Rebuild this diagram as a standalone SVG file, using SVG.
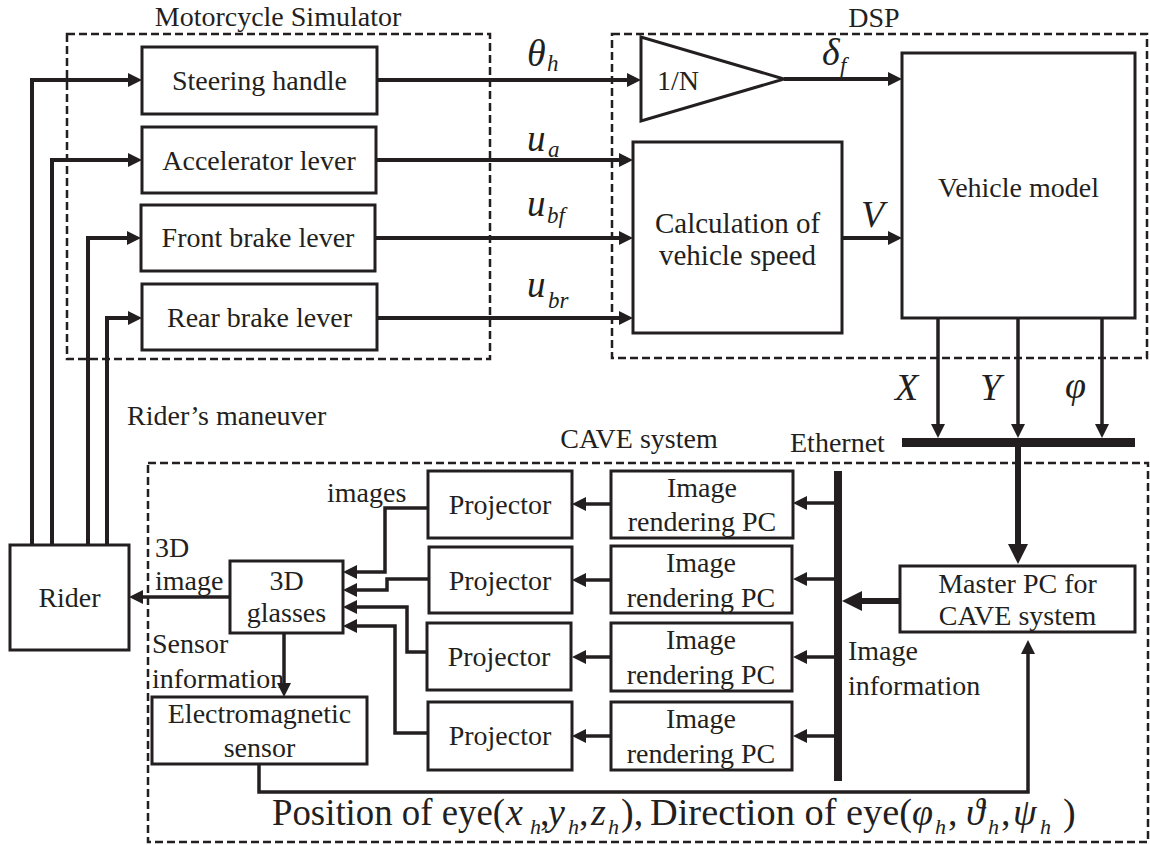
<svg xmlns="http://www.w3.org/2000/svg" width="1150" height="845" viewBox="0 0 1150 845">
<style>
text{font-family:'Liberation Serif','Times New Roman','DejaVu Serif',serif;fill:#231f20}
.t{font-size:28px}
.c{text-anchor:middle}
.m{font-size:38px;font-style:italic}
.mu{font-size:37px;font-style:italic}
.s{font-size:23px;font-style:italic}
.big{font-size:38px}
.bi{font-size:38px;font-style:italic}
.bs{font-size:22px;font-style:italic}
.box{fill:#fff;stroke:#231f20;stroke-width:3}
.dash{fill:none;stroke:#231f20;stroke-width:2.5;stroke-dasharray:8 4}
.ln{fill:none;stroke:#231f20;stroke-width:4;marker-end:url(#a)}
.ln3{fill:none;stroke:#231f20;stroke-width:3.5;marker-end:url(#a)}
.thk{fill:none;stroke:#231f20;stroke-width:6;marker-end:url(#b)}
.bar{fill:#231f20}
</style>
<defs>
<marker id="a" viewBox="0 0 14 14" refX="4" refY="7" markerWidth="14" markerHeight="14" markerUnits="userSpaceOnUse" orient="auto"><path d="M0,0 L14,7 L0,14 z" fill="#231f20"/></marker>
<marker id="b" viewBox="0 0 20 20" refX="6" refY="10" markerWidth="20" markerHeight="20" markerUnits="userSpaceOnUse" orient="auto"><path d="M0,0 L20,10 L0,20 z" fill="#231f20"/></marker>
</defs>

<g id="frames">
<rect class="dash" x="67" y="34" width="423" height="325"/>
<rect class="dash" x="612" y="34" width="535" height="324"/>
<rect class="dash" x="148" y="463" width="1000" height="379"/>
<text class="t c" x="278" y="26">Motorcycle Simulator</text>
<text class="t c" x="874" y="27">DSP</text>
<text class="t c" x="639" y="448">CAVE system</text>
<text class="t" x="790" y="452">Ethernet</text>
<text class="t" x="127" y="425">Rider’s maneuver</text>
</g>

<g id="connectors">
<path class="ln" d="M32,545 V80 H132"/>
<path class="ln" d="M52,545 V160 H132"/>
<path class="ln" d="M88,545 V238 H131"/>
<path class="ln" d="M107,545 V318 H132"/>
<path class="ln" d="M377,80 H631"/>
<path class="ln" d="M376,160 H623"/>
<path class="ln" d="M375,238 H623"/>
<path class="ln" d="M377,318 H623"/>
<path class="ln" d="M784,79 H892"/>
<path class="ln" d="M842,238 H892"/>
<path class="ln3" d="M938,318 V428"/>
<path class="ln3" d="M1018,318 V428"/>
<path class="ln3" d="M1102,318 V428"/>
<rect class="bar" x="902" y="438" width="233" height="9"/>
<path class="thk" d="M1018,447 V550"/>
<rect class="bar" x="834" y="471" width="8" height="310"/>
<path class="ln3" d="M834,503 H803"/>
<path class="ln3" d="M834,579 H803"/>
<path class="ln3" d="M834,657 H803"/>
<path class="ln3" d="M834,736 H803"/>
<path class="ln3" d="M611,504 H582"/>
<path class="ln3" d="M611,580 H582"/>
<path class="ln3" d="M611,657 H582"/>
<path class="ln3" d="M611,736 H582"/>
<path class="thk" d="M900,601 H856"/>
<path class="ln3" d="M428,508 H385 V572 H353"/>
<path class="ln3" d="M429,579 H387 V590 H353"/>
<path class="ln3" d="M427,652 H407 V607 H353"/>
<path class="ln3" d="M428,733 H395 V626 H353"/>
<path class="ln3" d="M230,597 H139"/>
<path class="ln3" d="M284,633 V687"/>
<path class="ln3" d="M259,764 V792 H1028 V650"/>
</g>

<g id="labels">
<text class="m" x="527" y="66">θ</text><text class="s" x="547" y="71">h</text>
<text class="mu" x="527" y="151">u</text><text class="s" x="548" y="157">a</text>
<text class="mu" x="527" y="216">u</text><text class="s" x="547" y="223">bf</text>
<text class="mu" x="527" y="297">u</text><text class="s" x="548" y="308">br</text>
<text class="m" x="822" y="65">δ</text><text class="s" x="840" y="73">f</text>
<text class="m" x="861" y="227">V</text>
<text class="m" x="895" y="400">X</text>
<text class="m" x="980" y="400">Y</text>
<text class="m" x="1065" y="398">φ</text>
<text class="t" x="155" y="557">3D</text>
<text class="t" x="155" y="590">image</text>
<text class="t" x="152" y="653">Sensor</text>
<text class="t" x="152" y="688">information</text>
<text class="t" x="327" y="502">images</text>
<text class="t" x="848" y="660">Image</text>
<text class="t" x="848" y="695">information</text>
<text class="big" x="272" y="825" textLength="233" lengthAdjust="spacingAndGlyphs">Position of eye(</text>
<text class="bi" x="506" y="825">x</text><text class="bs" x="530" y="834">h</text><text class="big" x="540" y="825">,</text>
<text class="bi" x="548" y="825">y</text><text class="bs" x="568" y="834">h</text><text class="big" x="579" y="825">,</text>
<text class="bi" x="591" y="825">z</text><text class="bs" x="608" y="834">h</text><text class="big" x="621" y="825">),</text>
<text class="big" x="650" y="825" textLength="262" lengthAdjust="spacingAndGlyphs">Direction of eye(</text>
<text class="bi" x="912" y="825">φ</text><text class="bs" x="935" y="834">h</text><text class="big" x="948" y="825">,</text>
<text class="bi" x="966" y="825">ϑ</text><text class="bs" x="988" y="834">h</text><text class="big" x="1001" y="825">,</text>
<text class="bi" x="1013" y="825">ψ</text><text class="bs" x="1040" y="834">h</text><text class="big" x="1063" y="825">)</text>
</g>

<g id="steering"><rect class="box" x="142" y="47" width="235" height="67"/><text class="t c" x="259.5" y="90">Steering handle</text></g>
<g id="accelerator"><rect class="box" x="142" y="127" width="234" height="66"/><text class="t c" x="259" y="170">Accelerator lever</text></g>
<g id="frontbrake"><rect class="box" x="141" y="205" width="234" height="66"/><text class="t c" x="258" y="247">Front brake lever</text></g>
<g id="rearbrake"><rect class="box" x="142" y="284" width="235" height="66"/><text class="t c" x="259.5" y="327">Rear brake lever</text></g>
<g id="gain"><path d="M641,37 L641,121 L784,79 z" fill="#fff" stroke="#231f20" stroke-width="3"/><text class="t" x="657" y="90">1/N</text></g>
<g id="calc"><rect class="box" x="633" y="142" width="209" height="191"/><text class="t c" x="737.5" y="233" style="font-size:29px">Calculation of</text><text class="t c" x="737.5" y="265" style="font-size:29px">vehicle speed</text></g>
<g id="vehicle"><rect class="box" x="902" y="53" width="233" height="265"/><text class="t c" x="1018.5" y="197">Vehicle model</text></g>
<g id="rider"><rect class="box" x="10" y="545" width="119" height="105"/><text class="t c" x="69.5" y="607">Rider</text></g>
<g id="glasses"><rect class="box" x="230" y="561" width="113" height="72"/><text class="t c" x="286.5" y="590">3D</text><text class="t c" x="286.5" y="622">glasses</text></g>
<g id="sensor"><rect class="box" x="152" y="697" width="215" height="67"/><text class="t c" x="259.5" y="723">Electromagnetic</text><text class="t c" x="259.5" y="757">sensor</text></g>
<g id="proj1"><rect class="box" x="428" y="471" width="144" height="67"/><text class="t c" x="500" y="514">Projector</text></g>
<g id="proj2"><rect class="box" x="429" y="547" width="143" height="66"/><text class="t c" x="500" y="590">Projector</text></g>
<g id="proj3"><rect class="box" x="427" y="623" width="144" height="67"/><text class="t c" x="499" y="666">Projector</text></g>
<g id="proj4"><rect class="box" x="428" y="702" width="144" height="68"/><text class="t c" x="500" y="745">Projector</text></g>
<g id="pc1"><rect class="box" x="611" y="471" width="182" height="67"/><text class="t c" x="702" y="497">Image</text><text class="t c" x="702" y="531">rendering PC</text></g>
<g id="pc2"><rect class="box" x="611" y="546" width="181" height="67"/><text class="t c" x="701" y="572">Image</text><text class="t c" x="701" y="607">rendering PC</text></g>
<g id="pc3"><rect class="box" x="611" y="623" width="181" height="68"/><text class="t c" x="701" y="649">Image</text><text class="t c" x="701" y="684">rendering PC</text></g>
<g id="pc4"><rect class="box" x="611" y="702" width="181" height="68"/><text class="t c" x="701" y="728">Image</text><text class="t c" x="701" y="763">rendering PC</text></g>
<g id="master"><rect class="box" x="900" y="566" width="235" height="66"/><text class="t c" x="1017.5" y="593">Master PC for</text><text class="t c" x="1017.5" y="625">CAVE system</text></g>
</svg>
